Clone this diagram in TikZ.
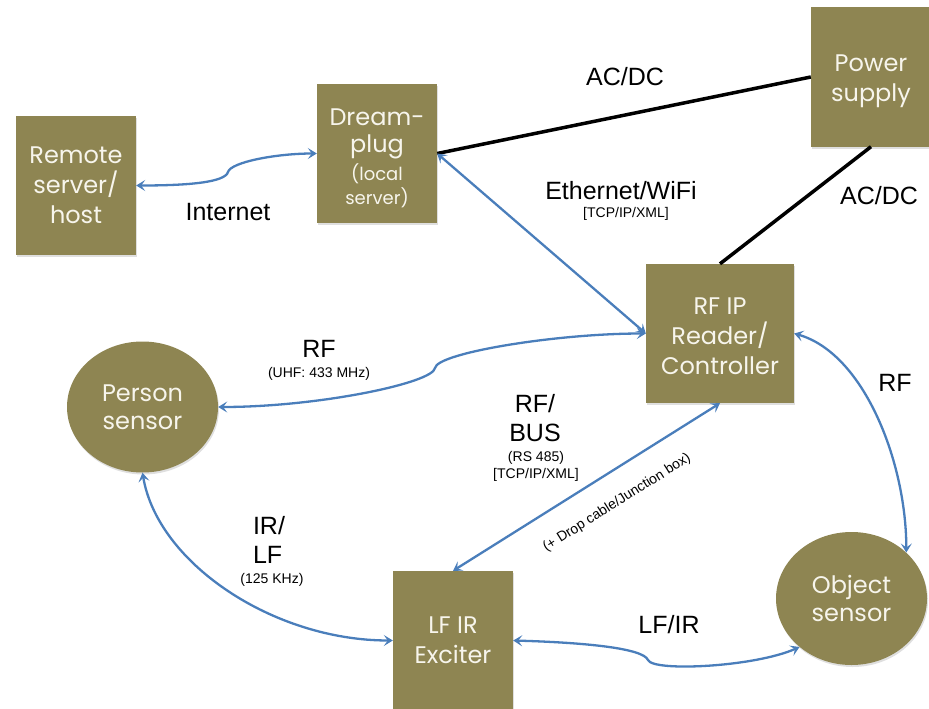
\documentclass[tikz,border=0pt]{standalone}
\usepackage{fontspec}
\setmainfont{Liberation Sans}
\newfontfamily\boxfont{Poppins}
\usetikzlibrary{arrows.meta,shadows,shapes.geometric}
\definecolor{boxolive}{HTML}{8E8552}
\definecolor{boxtext}{HTML}{F7F5EC}
\definecolor{linkblue}{HTML}{4A7EBB}
\newcommand{\smallboxfont}{\fontsize{18}{23}\selectfont}
\tikzset{
  box/.style={fill=boxolive, text=boxtext, font=\boxfont\fontsize{24}{30}\selectfont,
    align=center, minimum width=120pt, minimum height=139pt, inner sep=0pt,
    drop shadow={shadow xshift=1pt, shadow yshift=-2pt, opacity=.25}},
  boxtxt/.style={text=boxtext, font=\boxfont\fontsize{24}{30}\selectfont,
    align=center, inner sep=0pt},
  sensor/.style={ellipse, fill=boxolive, text=boxtext, font=\boxfont\fontsize{24}{28}\selectfont,
    align=center, minimum width=151pt, minimum height=131pt, inner sep=0pt,
    drop shadow={shadow xshift=1pt, shadow yshift=-2pt, opacity=.25}},
  link/.style={draw=linkblue, line width=2.3pt,
    {Stealth[length=9pt,width=11pt,inset=4pt]}-{Stealth[length=9pt,width=11pt,inset=4pt]}},
  pline/.style={draw=black, line width=3.5pt},
  lbl/.style={font=\fontsize{25}{29}\selectfont, align=center, inner sep=0pt},
  sml/.style={font=\fontsize{14}{17}\selectfont, align=center, inner sep=0pt},
}
\begin{document}
\begin{tikzpicture}[x=1pt,y=-1pt]
\useasboundingbox (0,0) rectangle (929,709);
% boxes
\node[box] (remote) at (76,185.5) {Remote\\server/\\host};
\node[box] (dream) at (377,153.5) {};
\node[boxtxt] (dreamtxt) at (377,158) {Dream-\\[-3pt]plug\\[-2pt]\smallboxfont (local\\[-6pt]\smallboxfont server)};
\node[box] (power) at (871,77) {};
\node[boxtxt] (powertxt) at (871,81) {Power\\supply};
\node[box, minimum width=148pt] (rfip) at (720,333.5) {};
\node[boxtxt] (rfiptxt) at (720,336.5) {RF IP\\Reader/\\Controller};
\node[box] (lfir) at (453,640.5) {LF IR\\Exciter};
\node[sensor] (person) at (142.5,407) {Person\\sensor};
\node[sensor, minimum height=133pt] (object) at (851.5,598.5) {Object\\sensor};
% kink points
\coordinate (k1) at (228,172);
\coordinate (k2) at (435,368);
\coordinate (k3) at (648,660);
% power lines
\draw[pline] (dream.east) -- (power.west);
\draw[pline] (rfip.north) -- (power.south);
% links
\draw[link] (remote.east) .. controls +(55,0) and +(-3,10) .. (k1)
  .. controls +(3,-10) and +(-40,0) .. (dream.west);
\draw[link] (dream.east) -- (rfip.west);
\draw[link] (person.east) .. controls +(100,0) and +(-2,15) .. (k2)
  .. controls +(2,-15) and +(-90,0) .. (rfip.west);
\draw[link] (rfip.east) .. controls +(70,20) and +(0,-90) .. (object.40);
\draw[link] (lfir.north) -- (rfip.south);
\draw[link] (person.south) .. controls +(15,90) and +(-120,0) .. (lfir.west);
\draw[link] (lfir.east) .. controls +(70,2) and +(-5,-12) .. (k3)
  .. controls +(5,12) and +(-45,20) .. (object.223);
% labels
\node[lbl] (tinternet) at (228,212) {Internet};
\node[lbl] (tacdc1) at (625,77) {AC/DC};
\node[lbl] (teth) at (621,191) {Ethernet/WiFi};
\node[sml] (teth2) at (626,214) {[TCP/IP/XML]};
\node[lbl] (tacdc2) at (879,196) {AC/DC};
\node[lbl] (trf1) at (319,349) {RF};
\node[sml] (trf1b) at (319,374) {(UHF: 433 MHz)};
\node[lbl] (tbus) at (535,418) {RF/\\BUS};
\node[sml] (tbus2) at (536,466) {(RS 485)\\{}[TCP/IP/XML]};
\node[sml, rotate=32.3] (tdrop) at (617,503) {(+ Drop cable/Junction box)};
\node[lbl] (trf2) at (895,383) {RF};
\node[lbl, align=left] (tirlf) at (269,540) {IR/\\LF};
\node[sml] (tirlf2) at (272,580) {(125 KHz)};
\node[lbl] (tlfir) at (669,625) {LF/IR};
\end{tikzpicture}
\end{document}
